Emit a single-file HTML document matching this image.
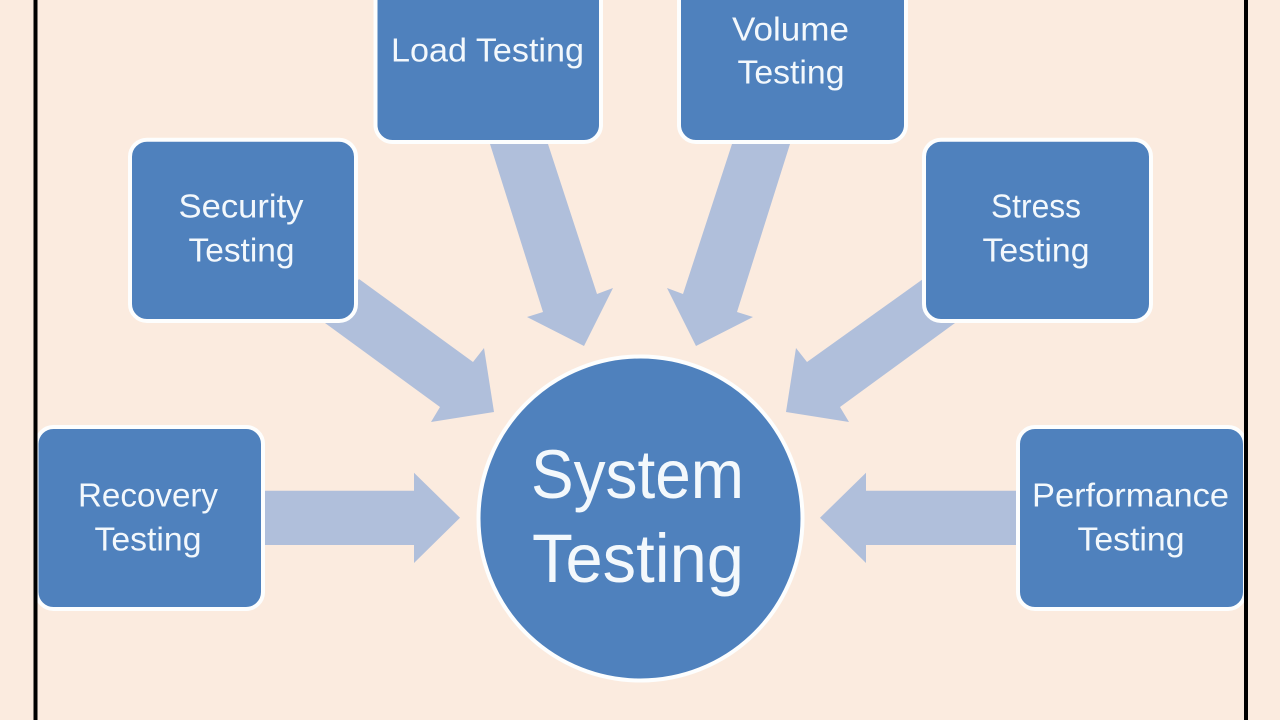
<!DOCTYPE html>
<html>
<head>
<meta charset="utf-8">
<style>
html,body{margin:0;padding:0;width:1280px;height:720px;overflow:hidden;background:#FBEBDF}
svg{display:block}
text{font-family:"Liberation Sans",sans-serif;fill:#F3F8FC}
.s{font-size:33px}
.b{font-size:69px}
</style>
</head>
<body>
<svg width="1280" height="720" viewBox="0 0 1280 720" xmlns="http://www.w3.org/2000/svg">
<rect width="1280" height="720" fill="#FBEBDF"/>
<g fill="#B0BFDB">
<polygon points="265,490.7 414,490.7 414,472.7 460,517.8 414,563 414,545 265,545"/>
<polygon points="1017,490.7 866,490.7 866,472.7 820,517.8 866,563 866,545 1017,545"/>
<polygon points="359,279 473,362 484,348 494,412 431,422 440,407 325,323"/>
<polygon points="923,279 807,362 796,348 786,412 849,422 840,407 955,323"/>
<polygon points="490,144 548,144 597,294 613,288 584,346 527,317 543,312"/>
<polygon points="790,144 732,144 683,294 667,288 696,346 753,317 737,312"/>
</g>
<g fill="#4F81BD" stroke="#FDFEFE" stroke-width="4">
<rect x="36.5" y="427" width="226.500" height="182" rx="17"/>
<rect x="1018" y="427" width="227" height="182" rx="17"/>
<rect x="130" y="139.700" width="226" height="181.300" rx="17"/>
<rect x="924" y="139.700" width="227" height="181.300" rx="17"/>
<rect x="375.500" y="-40" width="225.500" height="182" rx="17"/>
<rect x="679" y="-40" width="227" height="182" rx="17"/>
<circle cx="640.5" cy="518.5" r="162"/>
</g>
<rect x="33.5" y="0" width="4" height="720" fill="#000"/>
<rect x="1244" y="0" width="4" height="720" fill="#000"/>
<text class="s" x="78" y="506.5" textLength="140" lengthAdjust="spacingAndGlyphs">Recovery</text>
<text class="s" x="94.500" y="550.5" textLength="107" lengthAdjust="spacingAndGlyphs">Testing</text>
<text class="s" x="178.500" y="217.5" textLength="125" lengthAdjust="spacingAndGlyphs">Security</text>
<text class="s" x="188.500" y="261.5" textLength="106" lengthAdjust="spacingAndGlyphs">Testing</text>
<text class="s" x="991" y="217.5" textLength="90" lengthAdjust="spacingAndGlyphs">Stress</text>
<text class="s" x="982.500" y="261.5" textLength="107" lengthAdjust="spacingAndGlyphs">Testing</text>
<text class="s" x="391" y="61.5" textLength="193" lengthAdjust="spacingAndGlyphs">Load Testing</text>
<text class="s" x="732" y="40.5" textLength="117" lengthAdjust="spacingAndGlyphs">Volume</text>
<text class="s" x="737.500" y="83.5" textLength="107" lengthAdjust="spacingAndGlyphs">Testing</text>
<text class="s" x="1032" y="506.5" textLength="197" lengthAdjust="spacingAndGlyphs">Performance</text>
<text class="s" x="1077.500" y="550.5" textLength="107" lengthAdjust="spacingAndGlyphs">Testing</text>
<text class="b" x="531" y="498" textLength="213" lengthAdjust="spacingAndGlyphs">System</text>
<text class="b" x="532" y="582" textLength="212" lengthAdjust="spacingAndGlyphs">Testing</text>
</svg>
</body>
</html>
